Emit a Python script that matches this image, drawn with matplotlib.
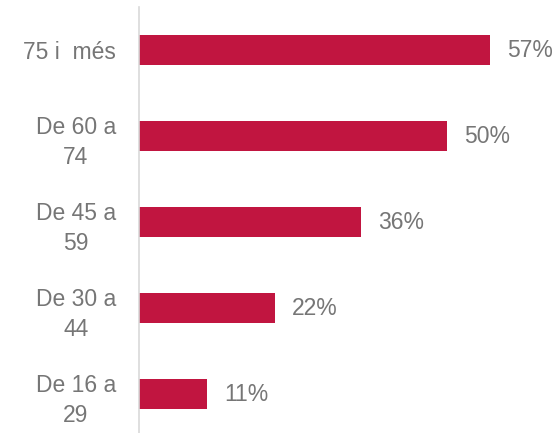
import matplotlib
matplotlib.use("Agg")
import matplotlib.pyplot as plt

categories = ["75 i  més", "De 60 a\n74", "De 45 a\n59", "De 30 a\n44", "De 16 a\n29"]
values = [57, 50, 36, 22, 11]
value_labels = ["57%", "50%", "36%", "22%", "11%"]

W, H, DPI = 555, 433, 100
plt.rcParams["font.family"] = ["Liberation Sans", "DejaVu Sans"]

fig = plt.figure(figsize=(W / DPI, H / DPI), dpi=DPI)
left_px, top_px, bottom_px = 139, 7, 433
ax = fig.add_axes([left_px / W, (H - bottom_px) / H, (W - left_px) / W, (bottom_px - top_px) / H])

bar_color = "#C11540"
text_color = "#767676"
fs = 16.5
px = 72 / DPI  # points per pixel
pos = list(range(len(categories)))
ax.barh(pos, values, height=0.35, color=bar_color, edgecolor="none")

for p, v, lab in zip(pos, values, value_labels):
    ax.annotate(lab, xy=(v, p), xytext=(17 * px, 0), textcoords="offset points",
                va="center", ha="left", fontsize=fs, color=text_color)

ax.set_xlim(0, (W - left_px) / 6.16)
ax.set_ylim(4.453, -0.5)
ax.set_yticks(pos)
ax.set_yticklabels(categories, fontsize=fs, color=text_color, linespacing=1.42,
                   multialignment="center")
ax.tick_params(axis="y", length=0, pad=23 * px)
ax.set_xticks([])
for s in ["top", "right", "bottom"]:
    ax.spines[s].set_visible(False)
ax.spines["left"].set_color("#D9D9D9")
ax.spines["left"].set_linewidth(1.2)

fig.savefig("out.png", dpi=DPI)
